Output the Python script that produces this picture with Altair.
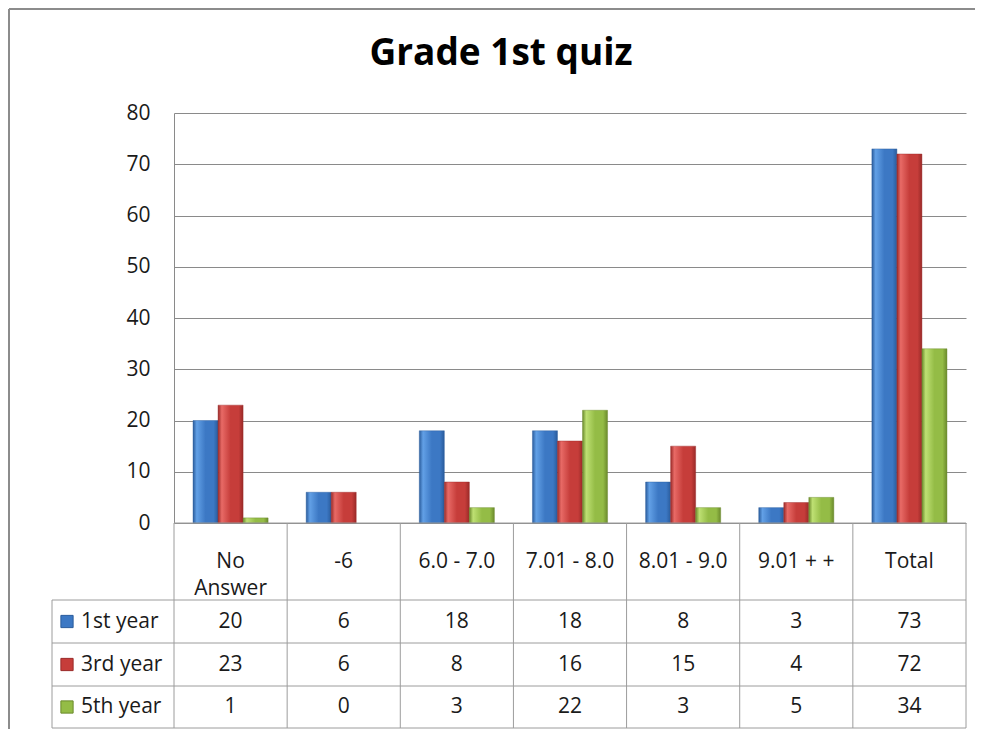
import altair as alt
import pandas as pd

# ---------------- data ----------------
TITLE = "Grade 1st quiz"
CATEGORIES = ["No Answer", "-6", "6.0 - 7.0", "7.01 - 8.0", "8.01 - 9.0", "9.01 + +", "Total"]
HEADER_LABELS = ["No\nAnswer", "-6", "6.0 - 7.0", "7.01 - 8.0", "8.01 - 9.0", "9.01 + +", "Total"]
SERIES = ["1st year", "3rd year", "5th year"]
FIRST_YEAR = [20, 6, 18, 18, 8, 3, 73]
THIRD_YEAR = [23, 6, 8, 16, 15, 4, 72]
FIFTH_YEAR = [1, 0, 3, 22, 3, 5, 34]
Y_TICKS = [0, 10, 20, 30, 40, 50, 60, 70, 80]

VALUES = [FIRST_YEAR, THIRD_YEAR, FIFTH_YEAR]

# ---------------- style / layout ----------------
FONT = "Open Sans"
TEXT_COLOR = "#1a1a1a"
GRID_COLOR = "#8a8a8a"
TABLE_COLOR = "#9c9c9c"
FRAME_COLOR = "#8c8c8c"
DARK = ["#2A5C9C", "#9A2A28", "#6B8A2C"]
LIGHT = ["#62A0E6", "#E86A66", "#BEE073"]
MID = ["#3C78C4", "#C63D3A", "#94BC46"]

W, H = 792, 410
NCOL = len(CATEGORIES)
Y_MAX = 80
PX_COL = W / NCOL
PX_UNIT = H / Y_MAX


def ux(px):
    """horizontal pixel offset from plot left -> column units"""
    return px / PX_COL


def uy(px):
    """pixels below the zero line -> value units"""
    return -px / PX_UNIT


ROW_EDGES = [uy(77), uy(120), uy(163), uy(205)]
HEADER_BOTTOM = ROW_EDGES[0]
LEGEND_LEFT = ux(-122)
MARKER_X = ux(-107)
LABEL_X = ux(-93)
FRAME_LEFT = ux(-165)
FRAME_RIGHT = ux(801)
FRAME_TOP = Y_MAX + 104 / PX_UNIT
FRAME_BOTTOM = uy(206)

# ---------------- tables ----------------
bars_df = pd.DataFrame(
    [
        {"category": c, "series": s, "value": vals[i]}
        for s, vals in zip(SERIES, VALUES)
        for i, c in enumerate(CATEGORIES)
    ]
)

cells_df = pd.DataFrame(
    [
        {"x": i + 0.5, "y": (ROW_EDGES[r] + ROW_EDGES[r + 1]) / 2, "text": str(vals[i])}
        for r, vals in enumerate(VALUES)
        for i in range(NCOL)
    ]
)

header_df = pd.DataFrame(
    [{"x": i + 0.5, "y": HEADER_BOTTOM / 2, "text": lab} for i, lab in enumerate(HEADER_LABELS)]
)

legend_df = pd.DataFrame(
    [
        {"series": s, "y": (ROW_EDGES[r] + ROW_EDGES[r + 1]) / 2, "mx": MARKER_X, "lx": LABEL_X}
        for r, s in enumerate(SERIES)
    ]
)

segs = []
for e in ROW_EDGES:
    segs.append({"x": LEGEND_LEFT, "x2": NCOL, "y": e, "y2": e})
for k in range(NCOL + 1):
    segs.append({"x": k, "x2": k, "y": 0, "y2": ROW_EDGES[-1]})
segs.append({"x": LEGEND_LEFT, "x2": LEGEND_LEFT, "y": ROW_EDGES[0], "y2": ROW_EDGES[-1]})
segs.append({"x": 0, "x2": NCOL, "y": 0, "y2": 0})
segs_df = pd.DataFrame(segs)

frame_df = pd.DataFrame(
    [
        {"x": FRAME_LEFT, "x2": FRAME_RIGHT, "y": FRAME_TOP, "y2": FRAME_TOP},
        {"x": FRAME_LEFT, "x2": FRAME_LEFT, "y": FRAME_TOP, "y2": FRAME_BOTTOM},
    ]
)

# ---------------- scales ----------------
Y_SCALE = alt.Scale(domain=[0, Y_MAX], nice=False, zero=False)
X_BAND = alt.Scale(domain=CATEGORIES, paddingInner=0, paddingOuter=0)
X_OFF = alt.Scale(domain=SERIES, paddingInner=0, paddingOuter=0.76)
X_COL = alt.Scale(domain=[0, NCOL], nice=False, zero=False)

Y_AXIS = alt.Axis(
    values=Y_TICKS,
    title=None,
    grid=True,
    gridColor=GRID_COLOR,
    gridWidth=1,
    ticks=False,
    domain=True,
    domainColor=GRID_COLOR,
    domainWidth=1,
    labelFont=FONT,
    labelFontSize=21,
    labelColor=TEXT_COLOR,
    labelPadding=24,
)


def y_enc(field):
    return alt.Y(field, scale=Y_SCALE, axis=Y_AXIS)


def gradient(i):
    return alt.LinearGradient(
        gradient="linear",
        x1=0, x2=1, y1=0, y2=0,
        stops=[
            alt.GradientStop(color=DARK[i], offset=0),
            alt.GradientStop(color=LIGHT[i], offset=0.15),
            alt.GradientStop(color=MID[i], offset=0.5),
            alt.GradientStop(color=MID[i], offset=0.82),
            alt.GradientStop(color=DARK[i], offset=1),
        ],
    )


bar_layers = []
for i, s in enumerate(SERIES):
    bar_layers.append(
        alt.Chart(bars_df)
        .transform_filter((alt.datum.series == s) & (alt.datum.value > 0))
        .mark_bar(fill=gradient(i), stroke=DARK[i], strokeWidth=0.6, strokeOpacity=0.7)
        .encode(
            x=alt.X("category:N", scale=X_BAND, sort=CATEGORIES, axis=None),
            xOffset=alt.XOffset("series:N", scale=X_OFF, sort=SERIES),
            y=y_enc("value:Q"),
        )
    )
bars = alt.layer(*bar_layers)

lines = alt.Chart(segs_df).mark_rule(color=TABLE_COLOR, strokeWidth=1).encode(
    x=alt.X("x:Q", scale=X_COL, axis=None),
    x2="x2:Q",
    y=y_enc("y:Q"),
    y2="y2:Q",
)

frame = alt.Chart(frame_df).mark_rule(color=FRAME_COLOR, strokeWidth=2).encode(
    x=alt.X("x:Q", scale=X_COL, axis=None),
    x2="x2:Q",
    y=y_enc("y:Q"),
    y2="y2:Q",
)

header = alt.Chart(header_df).mark_text(
    font=FONT, fontSize=21, color=TEXT_COLOR, baseline="middle", align="center",
    lineBreak="\n", lineHeight=27,
).encode(
    x=alt.X("x:Q", scale=X_COL, axis=None),
    y=y_enc("y:Q"),
    text="text:N",
)

cells = alt.Chart(cells_df).mark_text(
    font=FONT, fontSize=21, color=TEXT_COLOR, baseline="middle", align="center",
).encode(
    x=alt.X("x:Q", scale=X_COL, axis=None),
    y=y_enc("y:Q"),
    text="text:N",
)

legend_labels = alt.Chart(legend_df).mark_text(
    font=FONT, fontSize=21, color=TEXT_COLOR, baseline="middle", align="left",
).encode(
    x=alt.X("lx:Q", scale=X_COL, axis=None),
    y=y_enc("y:Q"),
    text="series:N",
)

legend_marks = alt.Chart(legend_df).mark_square(size=150, opacity=1, strokeWidth=1).encode(
    x=alt.X("mx:Q", scale=X_COL, axis=None),
    y=y_enc("y:Q"),
    fill=alt.Fill("series:N", scale=alt.Scale(domain=SERIES, range=MID), legend=None),
    stroke=alt.Stroke("series:N", scale=alt.Scale(domain=SERIES, range=DARK), legend=None),
)

table = alt.layer(frame, lines, header, cells, legend_marks, legend_labels)

chart = (
    alt.layer(bars, table)
    .resolve_scale(x="independent")
    .properties(
        width=W,
        height=H,
        padding=0,
        background="white",
        title=alt.TitleParams(
            TITLE,
            font=FONT,
            fontSize=37,
            fontWeight="bold",
            color="#000000",
            anchor="middle",
            frame="group",
            dx=-69,
            dy=69,
        ),
    )
    .configure_view(stroke="transparent")
)

chart.save("out.html", embed_options={"renderer": "svg", "actions": False})
